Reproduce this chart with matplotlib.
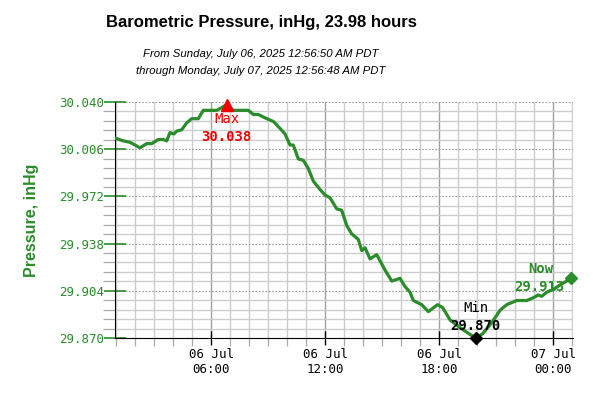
import matplotlib
matplotlib.use("Agg")
import matplotlib.pyplot as plt
import matplotlib.dates as mdates
from matplotlib.ticker import FixedLocator
import numpy as np
import pandas as pd

# hours since midnight, Sunday 06 Jul 2025 (PDT)
hours = [0.947, 1.384, 1.736, 1.999, 2.263, 2.615, 2.879, 3.226, 3.489, 3.668,
         3.842, 4.052, 4.194, 4.458, 4.721, 4.984, 5.331, 5.594, 5.947, 6.300,
         6.563, 6.826, 7.173, 7.526, 7.963, 8.226, 8.489, 8.931, 9.279, 9.631,
         9.894, 10.157, 10.331, 10.594, 10.857, 11.121, 11.384, 11.736, 11.999, 12.263,
         12.615, 12.879, 13.142, 13.405, 13.752, 13.931, 14.105, 14.368, 14.721, 15.157,
         15.510, 15.947, 16.210, 16.473, 16.647, 17.089, 17.436, 17.920, 18.184, 18.405,
         18.578, 19.052, 19.473, 19.921, 20.289, 20.773, 21.210, 21.563, 22.089, 22.615,
         22.963, 23.226, 23.405, 23.668, 24.015, 24.457, 24.721, 24.947]
pressure = [30.014, 30.012, 30.011, 30.009, 30.007, 30.010, 30.010, 30.013, 30.013, 30.012,
            30.018, 30.017, 30.019, 30.020, 30.025, 30.028, 30.028, 30.034, 30.034, 30.034,
            30.036, 30.038, 30.034, 30.034, 30.034, 30.031, 30.031, 30.028, 30.026, 30.021,
            30.017, 30.009, 30.009, 29.999, 29.998, 29.992, 29.983, 29.977, 29.973, 29.971,
            29.963, 29.962, 29.951, 29.945, 29.941, 29.933, 29.935, 29.927, 29.930, 29.919,
            29.911, 29.913, 29.907, 29.903, 29.897, 29.894, 29.889, 29.894, 29.892, 29.887,
            29.883, 29.878, 29.874, 29.870, 29.873, 29.881, 29.890, 29.894, 29.897, 29.897,
            29.899, 29.901, 29.900, 29.903, 29.905, 29.909, 29.911, 29.913]

y_ticks = [29.870, 29.904, 29.938, 29.972, 30.006, 30.040]

day0 = pd.Timestamp("2025-07-06")
times = day0 + pd.to_timedelta(hours, unit="h")

green = "#2a8c2a"
mono = "DejaVu Sans Mono"

fig = plt.figure(figsize=(6, 4), dpi=100)
ax = fig.add_axes([115/600, 1-338/400, 458/600, 236/400])

ax.plot(times, pressure, color=green, lw=2.3, solid_joinstyle="round", zorder=3)

ax.set_xlim(day0 + pd.Timedelta(hours=0.947), day0 + pd.Timedelta(hours=25.05))
ax.set_ylim(y_ticks[0], y_ticks[-1])

ax.set_yticks(y_ticks)
ax.set_yticklabels([f"{v:.3f}" for v in y_ticks])
# 5 minor steps between each pair of major ticks
ax.yaxis.set_minor_locator(FixedLocator(np.linspace(y_ticks[0], y_ticks[-1], 26)))
ax.xaxis.set_major_locator(mdates.HourLocator(byhour=[0, 6, 12, 18]))
ax.xaxis.set_major_formatter(mdates.DateFormatter("%d %b\n%H:%M"))
ax.xaxis.set_minor_locator(mdates.HourLocator())

ax.grid(which="minor", color="#cccccc", lw=1.0, ls="-")
ax.grid(which="major", axis="x", color="#a0a0a0", lw=1.0, ls="-")
ax.grid(which="major", axis="y", color="#999999", lw=0.8, ls=(0, (1.5, 1.5)))
ax.set_axisbelow(True)

for s in ["top", "right"]:
    ax.spines[s].set_visible(False)
ax.spines["left"].set_color("black")
ax.spines["bottom"].set_color("black")

ax.tick_params(axis="y", which="major", direction="inout", length=16, width=1.2,
               color=green, labelcolor=green, pad=0, labelsize=9)
ax.tick_params(axis="y", which="minor", direction="out", length=9, width=0.9, color="#aaaaaa")
ax.tick_params(axis="x", which="major", direction="inout", length=10, width=1.0,
               color="black", labelcolor="black", pad=2, labelsize=9)
ax.tick_params(axis="x", which="minor", direction="out", length=6, width=0.9, color="#aaaaaa")
for lab in ax.get_xticklabels() + ax.get_yticklabels():
    lab.set_family(mono)

ax.set_ylabel("Pressure, inHg", color=green, fontsize=11.5, fontweight="bold",
              family="Liberation Sans", labelpad=14)

# max / min / now markers
i_max = pressure.index(max(pressure))
i_min = pressure.index(min(pressure))
ax.plot(times[i_max], pressure[i_max], marker="^", color="#ee0000", ms=9, clip_on=False, zorder=4)
ax.annotate("Max", (times[i_max], pressure[i_max]), xytext=(0, -10), textcoords="offset points",
            ha="center", va="center", color="#ee0000", family=mono, fontsize=10)
ax.annotate(f"{pressure[i_max]:.3f}", (times[i_max], pressure[i_max]), xytext=(0, -23.5),
            textcoords="offset points", ha="center", va="center", color="#ee0000",
            family=mono, fontsize=10, fontweight="bold")

ax.plot(times[i_min], pressure[i_min], marker="D", color="black", ms=6, clip_on=False, zorder=4)
ax.annotate("Min", (times[i_min], pressure[i_min]), xytext=(0, 21.5), textcoords="offset points",
            ha="center", va="center", color="black", family=mono, fontsize=10)
ax.annotate(f"{pressure[i_min]:.3f}", (times[i_min], pressure[i_min]), xytext=(0, 8.5),
            textcoords="offset points", ha="center", va="center", color="black",
            family=mono, fontsize=10, fontweight="bold")

ax.plot(times[-1], pressure[-1], marker="D", color=green, ms=6, clip_on=False, zorder=4)
ax.annotate("Now", (times[-1], pressure[-1]), xytext=(-22, 6.5), textcoords="offset points",
            ha="center", va="center", color=green, family=mono, fontsize=10, fontweight="bold")
ax.annotate(f"{pressure[-1]:.3f}", (times[-1], pressure[-1]), xytext=(-22.5, -6.5),
            textcoords="offset points", ha="center", va="center", color=green,
            family=mono, fontsize=10, fontweight="bold")

fig.text(261/600, 1-22/400, "Barometric Pressure, inHg, 23.98 hours", ha="center", va="center",
         fontsize=12, fontweight="bold", family="Liberation Sans")
fig.text(261/600, 1-54/400, "From Sunday, July 06, 2025 12:56:50 AM PDT", ha="center", va="center",
         fontsize=8.2, style="italic", family="Liberation Sans")
fig.text(261/600, 1-71/400, "through Monday, July 07, 2025 12:56:48 AM PDT", ha="center", va="center",
         fontsize=8.2, style="italic", family="Liberation Sans")

fig.savefig("out.png", dpi=100)
